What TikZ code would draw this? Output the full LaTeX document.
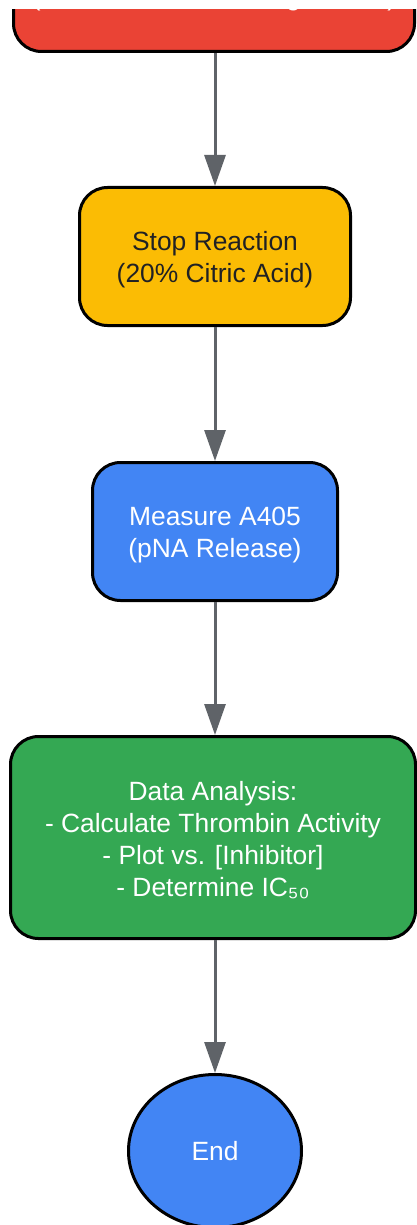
\documentclass[tikz,border=0pt]{standalone}
\usepackage{fontspec}
\setmainfont{Liberation Sans}
\usepackage{tikz}
\usetikzlibrary{arrows.meta}
\usetikzlibrary{positioning,shapes.geometric}
\definecolor{stepred}{HTML}{EA4335}
\definecolor{stepyellow}{HTML}{FBBC04}
\definecolor{stepblue}{HTML}{4285F4}
\definecolor{stepgreen}{HTML}{34A853}
\definecolor{flowgray}{HTML}{5F6368}
\definecolor{darktext}{HTML}{202124}
\newcommand{\toprule}{\rule{0pt}{25pt}}
\tikzset{
    stepbox/.style={
        draw=black,
        rectangle,
        rounded corners=28pt,
        line width=3pt,
        align=center,
        inner sep=0pt,
        text=white,
        font=\fontsize{26.4}{32}\selectfont
    },
    every edge/.style={
        draw,
        -{Triangle[length=31pt, width=21pt]},
        line width=3pt
    }
}

\begin{document}
\begin{tikzpicture}[x=1pt, y=1pt]
  % Fix the page to the reference size
  \useasboundingbox (0,0) rectangle (417,-1225);
  \clip (0,-10) rectangle (417,-1225);

  % Steps of the assay, top to bottom
  \node[stepbox, fill=stepred, minimum width=401pt, minimum height=138pt]
    (incub) at (214,17.5) {\rule{0pt}{20pt}\\(Add Substrate, Timing 10 min)};
  \node[stepbox, fill=stepyellow, text=darktext, minimum width=271pt, minimum height=138pt]
    (stop) at (215,-256.5) {\toprule Stop Reaction\\(20\% Citric Acid)};
  \node[stepbox, fill=stepblue, minimum width=245pt, minimum height=138pt]
    (measure) at (215,-531.5) {\toprule Measure A405\\(pNA Release)};
  \node[stepbox, fill=stepgreen, minimum width=405pt, minimum height=202pt]
    (analysis) at (213,-837.5) {\toprule Data Analysis:\\- Calculate Thrombin Activity\\- Plot vs. [Inhibitor]\\- Determine IC₅₀};
  \node[stepbox, ellipse, fill=stepblue, minimum width=173pt, minimum height=153pt]
    (end) at (215,-1151) {End};

  % Connect the steps
  \draw[flowgray] (incub.south -| stop.north) edge (stop.north)
                  (stop.south) edge (measure.north)
                  (measure.south) edge (analysis.north -| measure.south)
                  (analysis.south -| end.north) edge (end.north);
\end{tikzpicture}
\end{document}
